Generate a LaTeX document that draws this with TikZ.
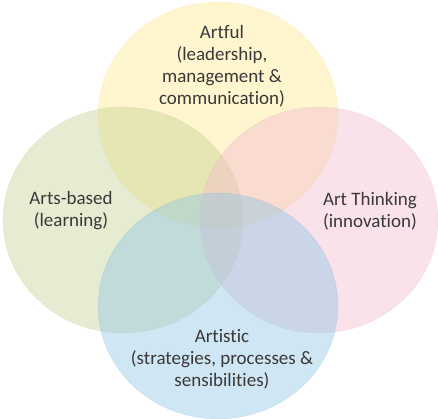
\documentclass[tikz,border=0pt]{standalone}
\usepackage{fontspec}
\setmainfont[Ligatures={NoCommon}]{Carlito}
\usepackage{xcolor}
\definecolor{artfulc}{RGB}{255,234,140}
\definecolor{basedc}{RGB}{195,210,145}
\definecolor{thinkc}{RGB}{242,185,207}
\definecolor{artisticc}{RGB}{140,196,228}
\definecolor{labelc}{RGB}{58,56,56}
\tikzset{
	set/.style={fill=#1,fill opacity=0.42,draw=#1!85!black,draw opacity=0.18,line width=0.5pt},
	setlabel/.style={text=labelc,align=center,font=\fontsize{19}{22}\selectfont,inner sep=0pt},
}
\begin{document}
\begin{tikzpicture}[x=1pt,y=1pt]
			\useasboundingbox (0,0) rectangle (438,419);
			
			% Circles
			\path[set=artfulc] (218,304) ellipse [x radius=120,y radius=113];
			\path[set=basedc] (123,199) ellipse [x radius=120,y radius=113];
			\path[set=thinkc] (319,199) ellipse [x radius=119,y radius=113];
			\path[set=artisticc] (218,113) ellipse [x radius=120,y radius=113];
			
			% Labels
			\node[setlabel] (artful) at (222,353) {Artful\\(leadership,\\management \&\\communication)};
			\node[setlabel] (artsbased) at (71,208) {Arts-based\\(learning)};
			\node[setlabel] (artthinking) at (370,208) {Art Thinking\\(innovation)};
			\node[setlabel] (artistic) at (222,60) {Artistic\\(strategies, processes \&\\sensibilities)};
\end{tikzpicture}
\end{document}
